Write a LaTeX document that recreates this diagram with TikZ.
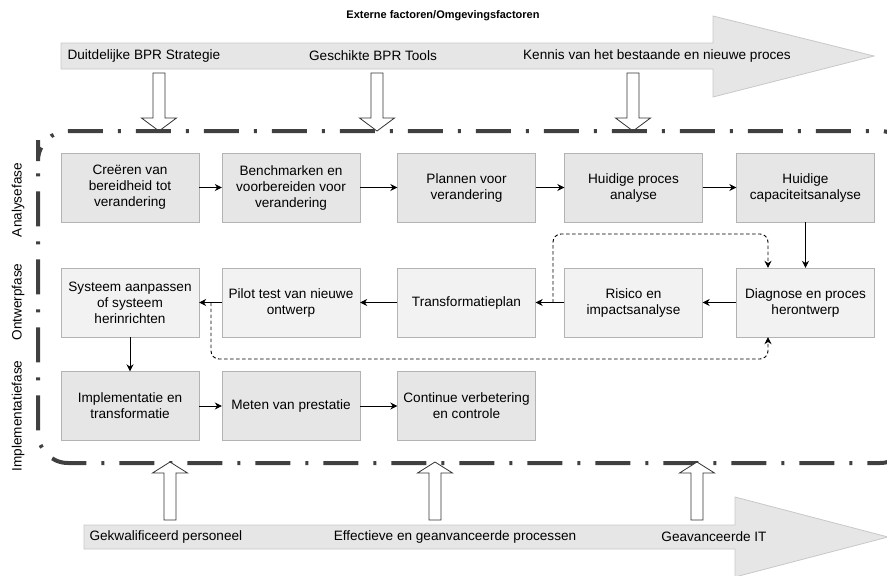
\documentclass[tikz,border=0pt]{standalone}
\usepackage{fontspec}
\setmainfont{Liberation Sans}
\usetikzlibrary{arrows.meta}
\definecolor{boxdark}{HTML}{E6E6E6}
\definecolor{boxlight}{HTML}{F2F2F2}
\definecolor{boxline}{HTML}{B3B3B3}
\definecolor{bandline}{HTML}{C8C8C8}
\definecolor{frameline}{HTML}{404040}

\begin{document}
\begin{tikzpicture}[x=1pt, y=-1pt,
    font=\fontsize{13.6}{16}\selectfont,
    procbox/.style={draw=boxline, fill=boxdark, minimum width=138, minimum height=69, align=center, inner sep=2},
    lightbox/.style={procbox, fill=boxlight},
    flow/.style={draw=black, line width=0.9, -{Stealth[length=7, width=7]}},
    loopback/.style={flow, dash pattern=on 3.5 off 2.5, rounded corners=8},
    band/.style={draw=bandline, fill=boxdark, line width=0.8},
    downarr/.pic={\draw[draw=black!80, fill=white, line width=0.8] (-6,0) -- (6,0) -- (6,45) -- (17.5,45) -- (0,58) -- (-17.5,45) -- (-6,45) -- cycle;},
    uparr/.pic={\draw[draw=black!80, fill=white, line width=0.8] (-6,0) -- (6,0) -- (6,-47) -- (17.5,-47) -- (0,-58) -- (-17.5,-47) -- (-6,-47) -- cycle;}]
        \useasboundingbox (0,0) rectangle (887,576);
        \clip (0,0) rectangle (887,576);

        % external factors
        \node[font=\fontsize{11}{13}\selectfont\bfseries] (extern) at (443,16) {Externe factoren/Omgevingsfactoren};
        \draw[band] (61,43) -- (713,43) -- (713,16) -- (874,56) -- (713,97) -- (713,69) -- (61,69) -- cycle;
        \node[anchor=west] (strategie) at (64,56) {Duitdelijke BPR Strategie};
        \node (tools) at (373,56) {Geschikte BPR Tools};
        \node (kennis) at (657,56) {Kennis van het bestaande en nieuwe proces};
        \pic at (159,73) {downarr};
        \pic at (377,73) {downarr};
        \pic at (633,73) {downarr};

        % frame round the phases
        \draw[frameline, line width=4, dash pattern=on 35 off 15 on 3 off 15, rounded corners=30]
            (38,170) -- (38,131) -- (910,131) -- (910,463) -- (38,463) -- cycle;
        \node[rotate=90] (analyse) at (18,200) {Analysefase};
        \node[rotate=90] (ontwerp) at (18,302) {Ontwerpfase};
        \node[rotate=90] (implement) at (18,416) {Implementatiefase};

        % analysis
        \node[procbox] (creeren) at (130,187.5) {Creëren van\\bereidheid tot\\verandering};
        \node[procbox] (bench) at (291,187.5) {Benchmarken en\\voorbereiden voor\\verandering};
        \node[procbox] (plannen) at (466.5,187.5) {Plannen voor\\verandering};
        \node[procbox] (huidig) at (633.5,187.5) {Huidige proces\\analyse};
        \node[procbox] (capac) at (805.5,187.5) {Huidige\\capaciteitsanalyse};

        % design
        \node[lightbox] (systeem) at (130,302.5) {Systeem aanpassen\\of systeem\\herinrichten};
        \node[lightbox] (pilot) at (291,302.5) {Pilot test van nieuwe\\ontwerp};
        \node[lightbox] (transplan) at (466.5,302.5) {Transformatieplan};
        \node[lightbox] (risico) at (633.5,302.5) {Risico en\\impactsanalyse};
        \node[lightbox] (diagnose) at (805.5,302.5) {Diagnose en proces\\herontwerp};

        % implementation
        \node[procbox] (implem) at (130,406) {Implementatie en\\transformatie};
        \node[procbox] (meten) at (291,406) {Meten van prestatie};
        \node[procbox] (continu) at (466.5,406) {Continue verbetering\\en controle};

        \draw[flow] (creeren) -- (bench);
        \draw[flow] (bench) -- (plannen);
        \draw[flow] (plannen) -- (huidig);
        \draw[flow] (huidig) -- (capac);
        \draw[flow] (capac) -- (diagnose);
        \draw[flow] (diagnose) -- (risico);
        \draw[flow] (risico) -- (transplan);
        \draw[flow] (transplan) -- (pilot);
        \draw[flow] (pilot) -- (systeem);
        \draw[flow] (systeem) -- (implem);
        \draw[flow] (implem) -- (meten);
        \draw[flow] (meten) -- (continu);

        % feedback loops
        \coordinate (fromtrans) at (553,302.5);
        \coordinate (fromsys) at (211,302.5);
        \draw[loopback] (fromtrans) -- (553,234) -- (768,234) -- ([xshift=-37.5]diagnose.north);
        \draw[loopback] (fromsys) -- (211,359) -- (768,359) -- ([xshift=-37.5]diagnose.south);

        % internal factors
        \draw[band] (84,525) -- (735,525) -- (735,497) -- (888,537) -- (735,577) -- (735,549) -- (84,549) -- cycle;
        \node[anchor=west] (personeel) at (86,537) {Gekwalificeerd personeel};
        \node (processen) at (455,537) {Effectieve en geanvanceerde processen};
        \node (geavit) at (714,537) {Geavanceerde IT};
        \pic at (170,520) {uparr};
        \pic at (435,520) {uparr};
        \pic at (697,520) {uparr};
\end{tikzpicture}
\end{document}
